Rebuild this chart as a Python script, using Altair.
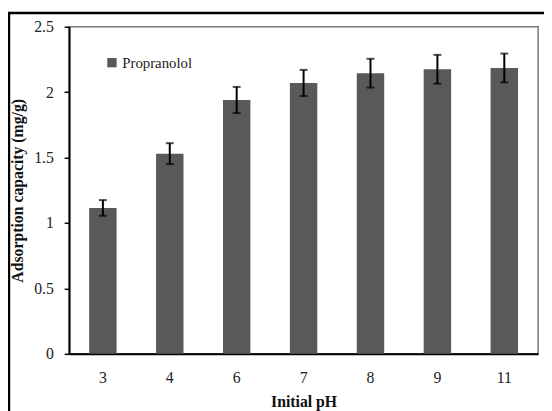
import altair as alt
import pandas as pd

ph = ["3", "4", "6", "7", "8", "9", "11"]
capacity = [1.115, 1.53, 1.94, 2.07, 2.145, 2.175, 2.185]
err = [0.06, 0.08, 0.10, 0.10, 0.11, 0.11, 0.11]
series = ["Propranolol"] * len(ph)

df = pd.DataFrame({"pH": ph, "cap": capacity, "err": err, "series": series})
df["lo"] = df["cap"] - df["err"]
df["hi"] = df["cap"] + df["err"]

W, H = 476, 332
FONT = "Liberation Serif"

xenc = alt.X(
    "pH:N", sort=ph, title="Initial  pH",
    scale=alt.Scale(paddingInner=0.59, paddingOuter=0.3),
    axis=alt.Axis(labelAngle=0, ticks=False, domainColor="black", domainWidth=2,
                  labelPadding=16, titlePadding=8),
)
yenc = alt.Y(
    "cap:Q", title="Adsorption capacity (mg/g)",
    scale=alt.Scale(domain=[0, 2.5], nice=False),
    axis=alt.Axis(values=[0, 0.5, 1, 1.5, 2, 2.5], format="~g", grid=False,
                  domainColor="black", domainWidth=2, tickColor="black", tickWidth=1.5,
                  tickSize=5, labelPadding=11, titlePadding=8),
)

bars = alt.Chart(df).mark_bar(color="#595959").encode(
    x=xenc, y=yenc,
    color=alt.Color("series:N", scale=alt.Scale(range=["#595959"]),
                    legend=alt.Legend(title=None, orient="none", legendX=36, legendY=29,
                                      symbolType="square", symbolSize=90,
                                      symbolStrokeWidth=0, labelFontSize=15,
                                      labelFont=FONT, labelColor="#222222",
                                      labelOffset=3)),
)
rules = alt.Chart(df).mark_rule(color="black", strokeWidth=2).encode(
    x=alt.X("pH:N", sort=ph), y="lo:Q", y2="hi:Q"
)
caps_lo = alt.Chart(df).mark_tick(color="black", thickness=2, size=8, orient="horizontal").encode(
    x=alt.X("pH:N", sort=ph), y="lo:Q"
)
caps_hi = alt.Chart(df).mark_tick(color="black", thickness=2, size=8, orient="horizontal").encode(
    x=alt.X("pH:N", sort=ph), y="hi:Q"
)

frame_df = pd.DataFrame({"a": [0]})
frame_left = alt.Chart(frame_df).mark_rule(color="black", strokeWidth=2.5).encode(
    x=alt.value(-61), y=alt.value(-14), y2=alt.value(H + 60)
)
frame_top = alt.Chart(frame_df).mark_rule(color="black", strokeWidth=2.5).encode(
    x=alt.value(-62), x2=alt.value(W + 10), y=alt.value(-14)
)

chart = alt.layer(bars, rules, caps_lo, caps_hi, frame_left, frame_top).properties(
    width=W, height=H,
    autosize=alt.AutoSizeParams(type="none"),
    padding={"left": 62, "top": 16, "right": 6, "bottom": 55},
).configure_view(
    stroke="#777777", strokeWidth=1.5
).configure_axis(
    labelFont=FONT, labelFontSize=16, labelColor="#222222",
    titleFont=FONT, titleFontSize=16, titleFontWeight="bold", titleColor="#111111",
)

chart.save("out.html", embed_options={"renderer": "svg", "actions": False})
